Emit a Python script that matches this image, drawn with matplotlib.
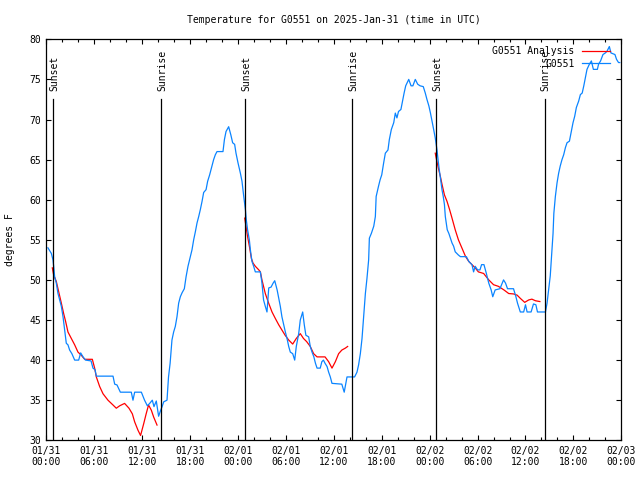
import numpy as np
import matplotlib
matplotlib.use("Agg")
import matplotlib.pyplot as plt

# ---- data (hours since 2025-01-31 00:00 UTC, temperature in F) ----
obs_hours = [0.2, 0.63, 0.83, 0.92, 1.04, 1.25, 1.46, 1.67, 1.88, 2.09, 2.3, 2.5, 2.71, 2.92, 3.2, 3.55,
             4.05, 4.3, 4.6, 4.9, 5.6, 5.84, 6.1, 6.26, 8.35, 8.56, 8.85, 9.27, 10.64, 10.85, 11.06, 11.9,
             12.3, 12.65, 12.94, 13.27, 13.48, 13.77, 14.06, 14.3, 14.5, 14.7, 15.11, 15.3, 15.5, 15.73,
             15.94, 16.15, 16.36, 16.57, 16.78, 17.0, 17.28, 17.5, 17.74, 18.03, 18.24, 18.45, 18.66,
             18.87, 19.08, 19.28, 19.5, 19.7, 20.0, 20.2, 20.45, 20.74, 20.95, 21.16, 21.37, 22.12, 22.3,
             22.5, 22.83, 23.1, 23.33, 23.58, 23.75, 24.0, 24.3, 24.5, 24.72, 24.93, 25.04, 25.2, 25.42,
             25.55, 25.75, 25.96, 26.17, 26.8, 27.0, 27.2, 27.42, 27.63, 27.85, 28.14, 28.4, 28.6, 28.9,
             29.1, 29.3, 29.5, 29.72, 29.93, 30.14, 30.35, 30.55, 30.85, 31.1, 31.3, 31.6, 31.8, 32.1,
             32.3, 32.5, 32.85, 33.05, 33.27, 33.5, 33.7, 33.9, 34.3, 34.5, 34.7, 34.9, 35.15, 35.35,
             35.56, 35.77, 37.0, 37.3, 37.65, 38.6, 38.9, 39.1, 39.32, 39.53, 39.7, 39.95, 40.15, 40.36,
             40.45, 40.7, 41.0, 41.2, 41.3, 41.6, 41.8, 42.0, 42.24, 42.45, 42.78, 42.95, 43.2, 43.5,
             43.7, 43.9, 44.1, 44.4, 44.6, 44.8, 45.0, 45.38, 45.67, 45.9, 46.2, 46.5, 46.8, 47.2, 47.45,
             47.66, 47.9, 48.1, 48.3, 48.5, 48.7, 48.8, 48.92, 49.05, 49.2, 49.35, 49.55, 49.7, 49.85,
             49.96, 50.2, 50.4, 50.6, 50.8, 51.0, 51.2, 51.6, 51.85, 52.6, 52.9, 53.1, 53.3, 53.5, 53.7,
             54.0, 54.3, 54.5, 54.8, 55.1, 55.4, 55.7, 55.9, 56.2, 56.8, 57.0, 57.25, 57.5, 57.75, 58.5,
             58.8, 59.0, 59.35, 59.77, 60.0, 60.2, 60.7, 61.0, 61.3, 61.5, 62.5, 62.7, 62.9, 63.1, 63.3,
             63.45, 63.55, 63.74, 63.95, 64.15, 64.35, 64.57, 64.78, 65.0, 65.2, 65.5, 65.7, 65.95,
             66.16, 66.37, 66.66, 66.87, 67.1, 67.3, 67.5, 67.7, 68.0, 68.25, 68.5, 69.0, 69.15, 69.4,
             69.7, 70.0, 70.2, 70.5, 70.7, 71.2, 71.4, 71.65, 71.8]
obs_temps = [54.0, 53.3, 52.5, 51.7, 50.4, 49.6, 48.3, 47.5, 46.7, 45.4, 43.75, 42.1, 41.9, 41.25, 40.8, 40.0,
             40.0, 40.9, 40.4, 40.0, 39.9, 39.0, 38.8, 38.0, 38.0, 37.0, 36.9, 36.0, 36.0, 35.0, 36.0, 36.0,
             35.0, 34.3, 34.6, 35.0, 34.2, 34.9, 33.0, 33.7, 34.2, 34.8, 35.0, 37.9, 39.6, 42.5,
             43.5, 44.2, 45.4, 47.1, 47.9, 48.4, 48.9, 50.4, 51.7, 52.9, 53.75, 55.0, 56.0,
             57.1, 57.9, 58.75, 59.8, 60.9, 61.25, 62.3, 63.1, 64.2, 65.0, 65.6, 66.0, 66.0, 67.5,
             68.5, 69.1, 68.1, 67.1, 66.9, 65.8, 64.6, 63.3, 62.3, 60.4, 58.75, 57.5, 56.25, 55.0,
             53.75, 52.3, 51.7, 51.0, 51.0, 49.6, 47.5, 46.7, 46.0, 49.0, 49.1, 49.6, 49.9, 48.75,
             47.7, 46.7, 45.4, 44.4, 43.5, 42.7, 41.7, 41.0, 40.8, 40.0, 41.7, 43.3, 45.0, 46.0,
             44.4, 43.1, 42.9, 41.7, 41.0, 40.4, 39.6, 39.0, 39.0, 39.8, 40.0, 39.6, 39.2, 38.5,
             37.9, 37.1, 37.0, 36.0, 37.9, 37.9, 38.5, 39.4, 40.8, 42.7, 45.0, 48.3, 50.2, 52.5,
             55.2, 55.8, 56.7, 57.9, 60.4, 61.7, 62.5, 63.1, 64.6, 65.8, 66.2, 67.5, 68.75, 69.6,
             70.8, 70.2, 71.0, 71.25, 72.3, 73.3, 74.2, 75.0, 74.2, 74.2, 75.0, 74.4, 74.2, 74.1, 73.3,
             72.5, 71.7, 70.8, 69.8, 68.75, 67.7, 67.0, 66.2, 65.0, 63.75, 62.7, 61.2, 60.4, 59.4,
             57.9, 56.25, 55.8, 55.2, 54.6, 54.2, 53.5, 53.1, 52.9, 52.9, 52.3, 52.1, 51.9, 51.0, 51.7,
             51.25, 51.25, 51.9, 51.9, 50.8, 49.6, 48.75, 47.9, 48.75, 48.9, 49.4, 50.0, 49.6, 48.9, 48.9,
             47.9, 47.1, 46.0, 46.0, 46.9, 46.0, 46.0, 47.0, 46.9, 46.0, 46.0, 47.1, 48.75, 50.5, 53.5,
             55.8, 58.3, 60.4, 62.1, 63.3, 64.2, 65.0, 65.6, 66.5, 67.1, 67.3, 68.3, 69.6,
             70.4, 71.5, 72.3, 73.1, 73.3, 74.2, 75.2, 76.25, 76.9, 77.3, 76.25, 76.25, 76.9, 77.3,
             78.1, 78.3, 78.5, 79.1, 78.3, 78.1, 77.5, 77.1, 77.1]

ana1_hours = [0.75, 0.92, 1.25, 1.6, 1.88, 2.17, 2.42, 2.71, 3.13, 3.55, 3.96, 4.38, 4.8, 5.76, 6.05, 6.26,
              6.68, 7.1, 7.72, 8.35, 8.76, 9.18, 9.8, 10.35, 10.77, 11.06, 11.48, 11.8, 12.2, 12.5, 12.8,
              13.15, 13.44, 13.86]
ana1_temps = [51.5, 50.6, 49.8, 48.3, 47.1, 45.8, 44.8, 43.5, 42.7, 41.9, 41.0, 40.6, 40.1, 40.1, 39.0, 37.9,
              36.7, 35.8, 35.0, 34.4, 34.0, 34.3, 34.6, 34.0, 33.3, 32.3, 31.25, 30.6, 32.1, 33.3, 34.4,
              33.75, 32.9, 31.9]
ana2_hours = [24.84, 25.0, 25.2, 25.46, 25.67, 25.88, 26.17, 26.6, 26.8, 27.0, 27.42, 27.84, 28.26, 28.67,
              29.1, 29.5, 29.9, 30.35, 30.85, 31.3, 31.8, 32.2, 32.6, 33.05, 33.47, 33.9, 34.9, 35.35,
              35.77, 36.19, 36.6, 37.0, 37.45, 37.73]
ana2_temps = [57.7, 56.7, 55.4, 54.0, 52.7, 52.1, 51.7, 51.25, 51.0, 50.0, 48.3, 47.1, 46.0, 45.2,
              44.4, 43.75, 43.1, 42.5, 42.0, 42.7, 43.3, 42.7, 42.3, 41.7, 40.8, 40.4, 40.4, 39.8,
              39.0, 39.8, 40.8, 41.25, 41.5, 41.7]
ana3_hours = [48.7, 48.9, 49.13, 49.34, 49.55, 49.85, 50.17, 50.5, 50.8, 51.2, 51.6, 52.05, 52.5, 52.9,
              53.3, 53.7, 54.1, 54.76, 55.4, 56.0, 56.6, 57.3, 57.9, 58.5, 58.95, 59.35, 59.9, 60.4,
              60.8, 61.25, 61.8]
ana3_temps = [65.8, 64.8, 63.75, 62.9, 61.9, 60.6, 59.8, 58.75, 57.7, 56.25, 55.0, 53.95, 52.9, 52.3,
              51.9, 51.5, 51.0, 50.8, 50.0, 49.4, 49.2, 48.75, 48.3, 48.25, 48.1, 47.7, 47.2, 47.5,
              47.6, 47.4, 47.3]

sun_hours = [0.88, 14.4, 24.92, 38.32, 48.84, 62.4]
sun_labels = ["Sunset", "Sunrise", "Sunset", "Sunrise", "Sunset", "Sunrise"]
sun_line_top = 72.6

xtick_hours = [0, 6, 12, 18, 24, 30, 36, 42, 48, 54, 60, 66, 72]
xtick_labels = ["01/31\n00:00", "01/31\n06:00", "01/31\n12:00", "01/31\n18:00",
                "02/01\n00:00", "02/01\n06:00", "02/01\n12:00", "02/01\n18:00",
                "02/02\n00:00", "02/02\n06:00", "02/02\n12:00", "02/02\n18:00",
                "02/03\n00:00"]

title = "Temperature for G0551 on 2025-Jan-31 (time in UTC)"

# ---- plot ----
plt.rcParams['font.family'] = ['DejaVu Sans Mono']
FS = 7
fig = plt.figure(figsize=(6.4, 4.8), dpi=100)
ax = fig.add_axes([46.33 / 640, 1 - 440.3 / 480, 575 / 640, 401 / 480])

red = '#ff0000'
blue = '#0a84ff'
lw = 0.9

ax.plot(ana1_hours, ana1_temps, color=red, lw=lw, label='G0551 Analysis')
ax.plot(ana2_hours, ana2_temps, color=red, lw=lw)
ax.plot(ana3_hours, ana3_temps, color=red, lw=lw)
ax.plot(obs_hours, obs_temps, color=blue, lw=lw, label='G0551')

for h, lab in zip(sun_hours, sun_labels):
    ax.plot([h, h], [30, sun_line_top], color='black', lw=0.9)
    ax.text(h + 0.12, sun_line_top + 0.9, lab, rotation=90, ha='center', va='bottom',
            fontsize=FS)

ax.set_xlim(0, 72)
ax.set_ylim(30, 80)
ax.set_xticks(xtick_hours)
ax.set_xticklabels(xtick_labels, fontsize=FS)
ax.set_xticks(np.arange(0, 73, 2), minor=True)
ax.set_yticks(np.arange(30, 81, 5))
ax.set_yticklabels([str(v) for v in range(30, 81, 5)], fontsize=FS)
ax.tick_params(which='both', direction='in', top=True, right=True, width=0.8)
ax.tick_params(which='major', length=3.8, pad=4)
ax.tick_params(which='minor', length=2.3)
for s in ax.spines.values():
    s.set_linewidth(0.9)

ax.set_ylabel("degrees F", fontsize=FS, labelpad=10)
ax.set_title(title, fontsize=FS, pad=12)

leg = ax.legend(loc='upper right', frameon=False, fontsize=FS, markerfirst=False,
                handlelength=2.8, handletextpad=0.8, labelspacing=0.25,
                borderaxespad=0.3, bbox_to_anchor=(1 - 5 / 575, 1))

fig.savefig("out.png", dpi=100)
